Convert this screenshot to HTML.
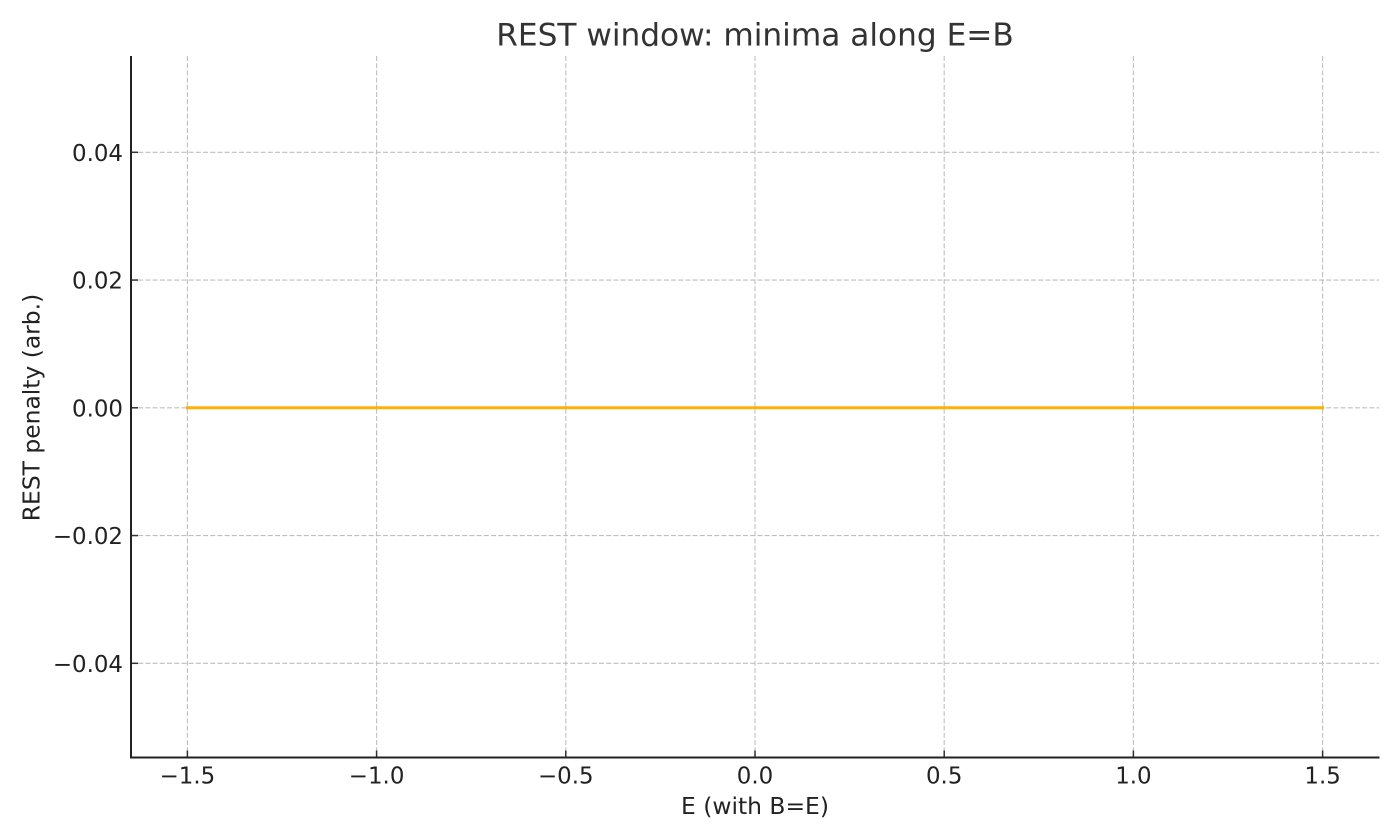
<!DOCTYPE html>
<html lang="en">
<head>
<meta charset="utf-8">
<title>REST window: minima along E=B</title>
<style>
html,body{margin:0;padding:0;background:#fff;}
svg{display:block;font-family:"DejaVu Sans","Liberation Sans",sans-serif;}
</style>
</head>
<body>
<svg id="chart" width="1400" height="840" viewBox="0 0 1400 840" xmlns="http://www.w3.org/2000/svg">
<rect x="0" y="0" width="1400" height="840" fill="#ffffff"/>
<g id="grid"></g>
<g id="series"></g>
<g id="ticks"></g>
<line x1="131" y1="56" x2="131" y2="758.5" stroke="#222222" stroke-width="2"/>
<line x1="130" y1="757.5" x2="1379.5" y2="757.5" stroke="#222222" stroke-width="2"/>
<text x="755" y="45.5" text-anchor="middle" font-size="31.2" fill="#333333">REST window: minima along E=B</text>
<text x="755" y="814" text-anchor="middle" font-size="23.4" fill="#222222">E (with B=E)</text>
<text transform="translate(39.5,407.5) rotate(-90)" text-anchor="middle" font-size="23.4" fill="#222222">REST penalty (arb.)</text>
</svg>
<script>
const xTicks = [-1.5, -1.0, -0.5, 0.0, 0.5, 1.0, 1.5];
const yTicks = [-0.04, -0.02, 0.00, 0.02, 0.04];
const xTickLabels = ["\u22121.5", "\u22121.0", "\u22120.5", "0.0", "0.5", "1.0", "1.5"];
const yTickLabels = ["\u22120.04", "\u22120.02", "0.00", "0.02", "0.04"];
const eValues = [-1.5, -1.25, -1.0, -0.75, -0.5, -0.25, 0.0, 0.25, 0.5, 0.75, 1.0, 1.25, 1.5];
const penaltyValues = [0, 0, 0, 0, 0, 0, 0, 0, 0, 0, 0, 0, 0];

const NS = "http://www.w3.org/2000/svg";
const xScale = function (v) { return 755 + v * 378.4; };
const yScale = function (v) { return 407.8 - v * 6387.5; };
const gridLayer = document.getElementById("grid");
const tickLayer = document.getElementById("ticks");
const seriesLayer = document.getElementById("series");

function svgEl(tag, attrs, parent) {
  const el = document.createElementNS(NS, tag);
  Object.keys(attrs).forEach(function (k) { el.setAttribute(k, attrs[k]); });
  parent.appendChild(el);
  return el;
}

xTicks.forEach(function (t, i) {
  const x = xScale(t);
  const g = svgEl("line", { x1: x, y1: 56, x2: x, y2: 757, stroke: "#bfbfbf", "stroke-width": 1.1, "stroke-dasharray": "5 2.2" }, gridLayer);
  
  
  const m = svgEl("line", { x1: x, y1: 750.5, x2: x, y2: 757, stroke: "#333333", "stroke-width": 1.5 }, tickLayer);
  
  
  const l = svgEl("text", { x: x, y: 783.5, "text-anchor": "middle", "font-size": 22.9, fill: "#222222" }, tickLayer);
  l.textContent = xTickLabels[i];
  
  
});

yTicks.forEach(function (t, i) {
  const y = yScale(t);
  const g = svgEl("line", { x1: 131, y1: y, x2: 1379, y2: y, stroke: "#bfbfbf", "stroke-width": 1.1, "stroke-dasharray": "5 2.2" }, gridLayer);
  
  
  const m = svgEl("line", { x1: 131, y1: y, x2: 138, y2: y, stroke: "#333333", "stroke-width": 1.5 }, tickLayer);
  
  
  const l = svgEl("text", { x: 123, y: y + 8.5, "text-anchor": "end", "font-size": 22.9, fill: "#222222" }, tickLayer);
  l.textContent = yTickLabels[i];
  
  
});

const points = eValues.map(function (e, i) { return xScale(e) + "," + yScale(penaltyValues[i]); }).join(" ");
const line = svgEl("polyline", { points: points, fill: "none", stroke: "#ffb000", "stroke-width": 3, "stroke-linecap": "square" }, seriesLayer);


</script>
</body>
</html>
